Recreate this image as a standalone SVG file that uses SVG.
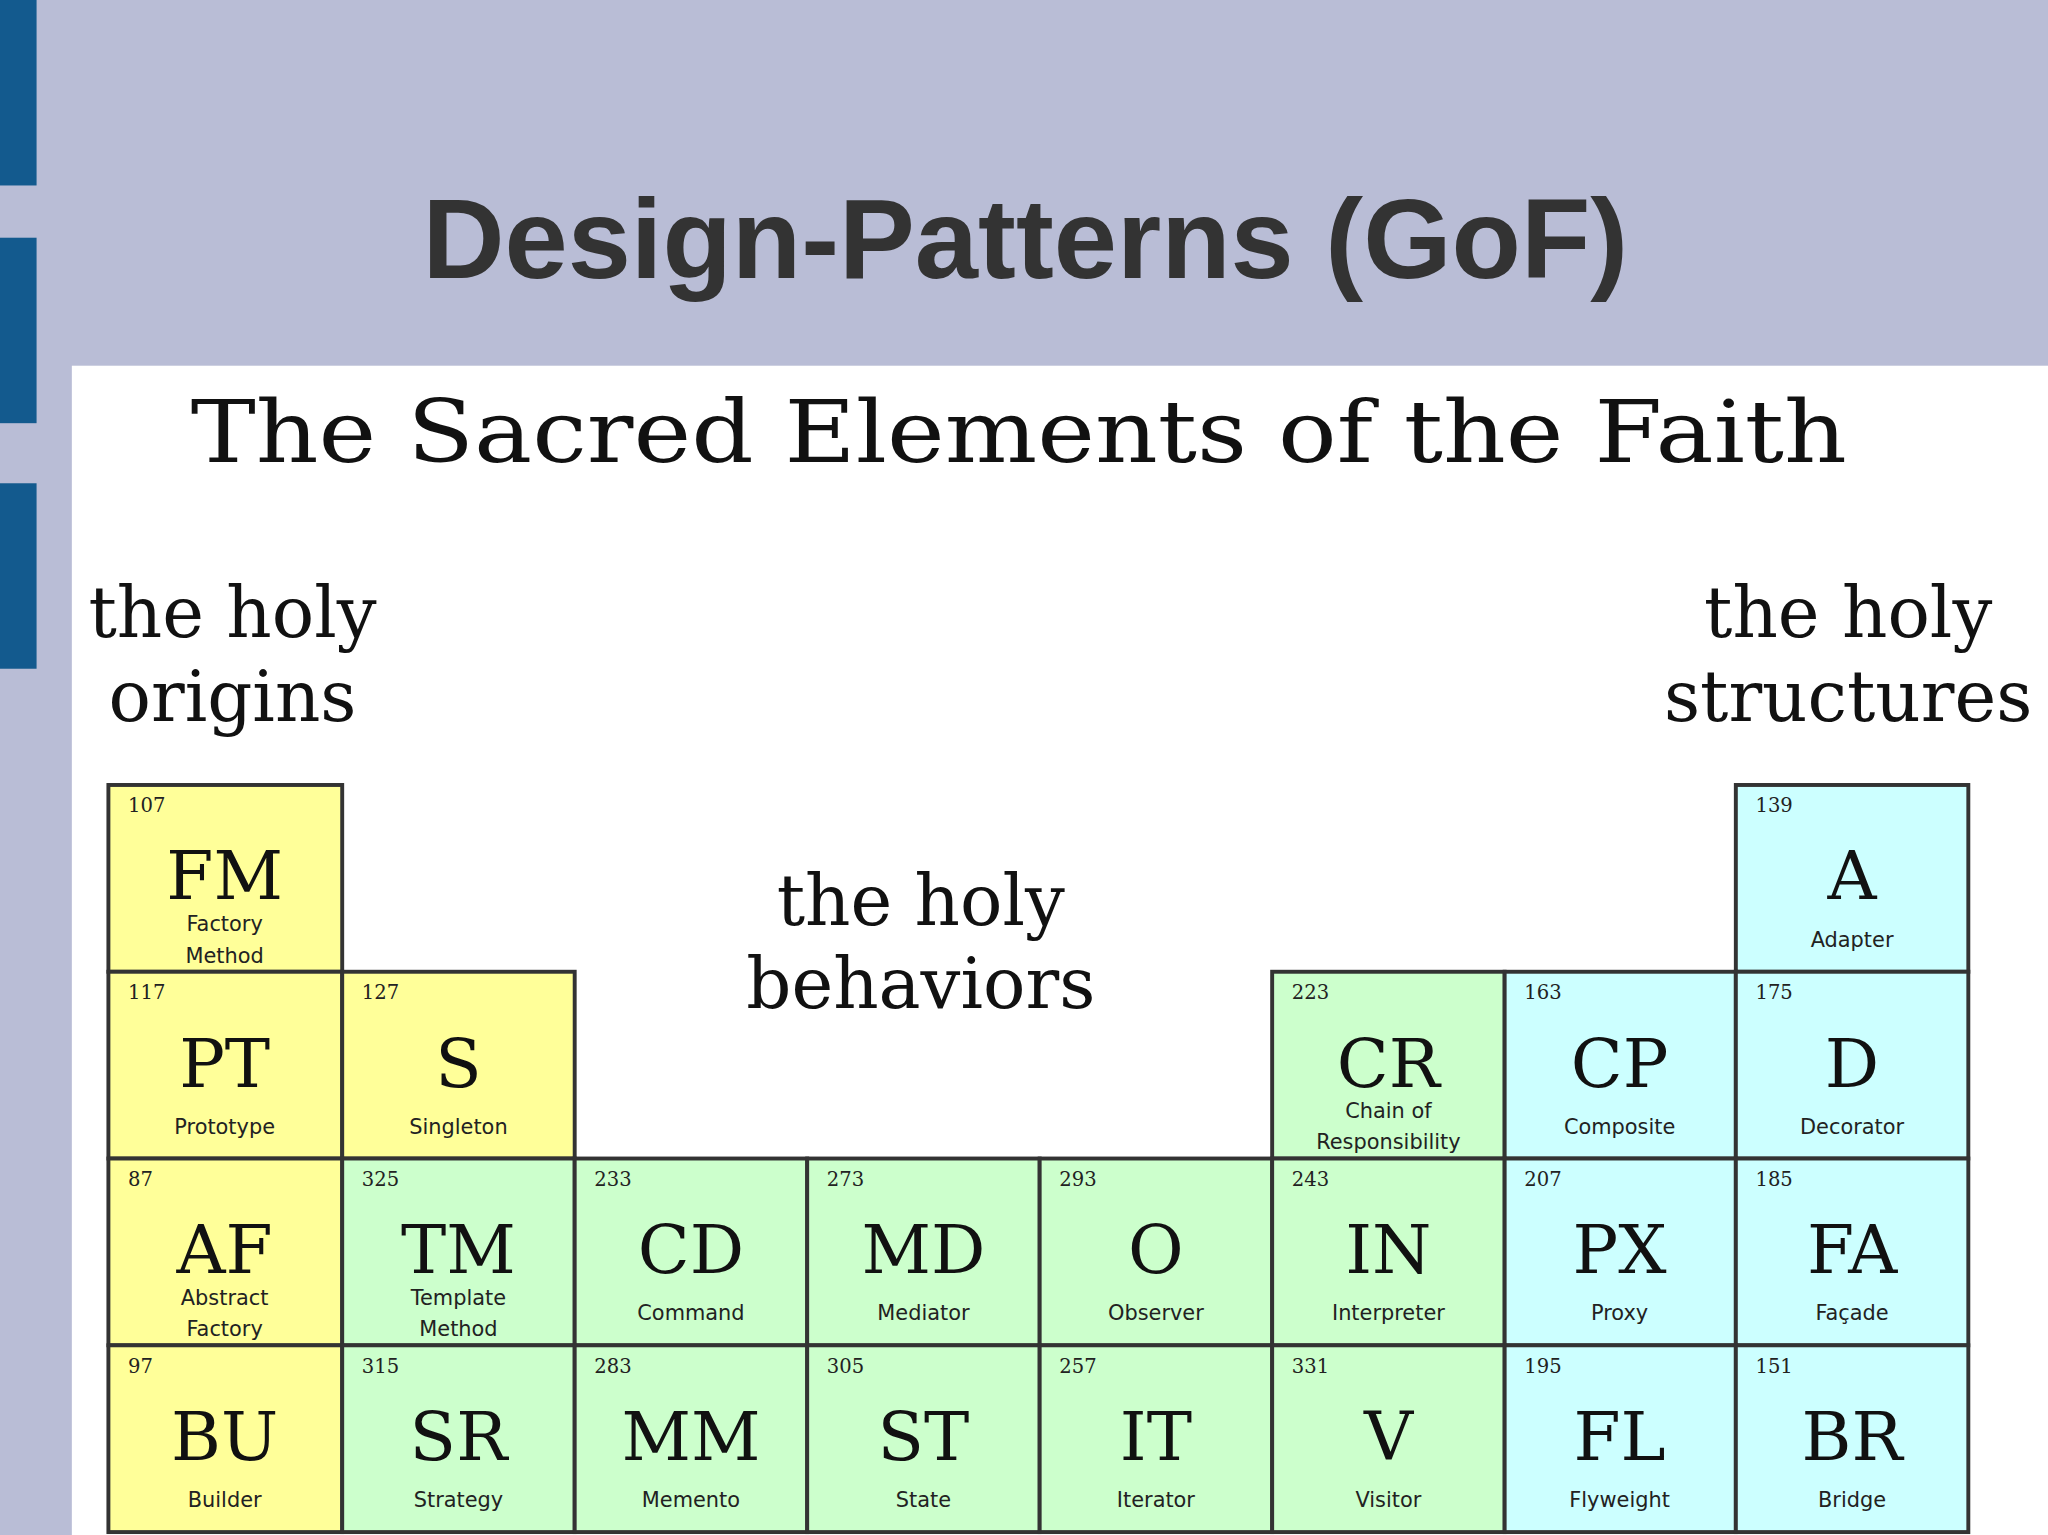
<svg xmlns="http://www.w3.org/2000/svg" width="2048" height="1535" viewBox="0 0 2048 1535">
<style>
.c rect{stroke:#333;stroke-width:3}
.y{fill:#ffff99}.g{fill:#ccffcc}.b{fill:#ccffff}
.n{font-family:"DejaVu Serif",serif;font-size:15px;fill:#222}
.s{font-family:"DejaVu Serif",serif;font-size:52px;fill:#111;text-anchor:middle}
.l{font-family:"DejaVu Sans",sans-serif;font-size:16px;fill:#222;text-anchor:middle}
.h{font-family:"DejaVu Serif",serif;font-size:54px;fill:#111;text-anchor:middle}
</style>
<rect width="2048" height="1535" fill="#b9bdd6"/>
<g transform="scale(1.30612)">
<rect x="0" y="0" width="28" height="142" fill="#135a8e"/>
<rect x="0" y="182" width="28" height="142" fill="#135a8e"/>
<rect x="0" y="370" width="28" height="142" fill="#135a8e"/>
<text x="785" y="213" text-anchor="middle" font-family="Liberation Sans,sans-serif" font-weight="bold" font-size="87" fill="#333">Design-Patterns (GoF)</text>
<rect x="55" y="280" width="1513" height="900" fill="#ffffff"/>
<text x="780" y="354" text-anchor="middle" font-family="DejaVu Serif,serif" font-size="66" fill="#111" textLength="1268" lengthAdjust="spacingAndGlyphs">The Sacred Elements of the Faith</text>
<text class="h" x="178" y="488">the holy</text><text class="h" x="178" y="552">origins</text>
<text class="h" x="1415" y="488">the holy</text><text class="h" x="1415" y="552">structures</text>
<text class="h" x="705" y="708">the holy</text><text class="h" x="705" y="772">behaviors</text>
<g class="c">
<g id="FM"><rect class="y" x="83" y="601" width="179" height="143"/><text class="n" x="98" y="622">107</text><text class="s" x="172" y="688">FM</text><text class="l" x="172" y="713">Factory</text><text class="l" x="172" y="737">Method</text></g>
<g id="A"><rect class="b" x="1329" y="601" width="178" height="143"/><text class="n" x="1344" y="622">139</text><text class="s" x="1418" y="688">A</text><text class="l" x="1418" y="725">Adapter</text></g>
<g id="PT"><rect class="y" x="83" y="744" width="179" height="143"/><text class="n" x="98" y="765">117</text><text class="s" x="172" y="832">PT</text><text class="l" x="172" y="868">Prototype</text></g>
<g id="S"><rect class="y" x="262" y="744" width="178" height="143"/><text class="n" x="277" y="765">127</text><text class="s" x="351" y="832">S</text><text class="l" x="351" y="868">Singleton</text></g>
<g id="CR"><rect class="g" x="974" y="744" width="178" height="143"/><text class="n" x="989" y="765">223</text><text class="s" x="1063" y="832">CR</text><text class="l" x="1063" y="856">Chain of</text><text class="l" x="1063" y="880">Responsibility</text></g>
<g id="CP"><rect class="b" x="1152" y="744" width="177" height="143"/><text class="n" x="1167" y="765">163</text><text class="s" x="1240" y="832">CP</text><text class="l" x="1240" y="868">Composite</text></g>
<g id="D"><rect class="b" x="1329" y="744" width="178" height="143"/><text class="n" x="1344" y="765">175</text><text class="s" x="1418" y="832">D</text><text class="l" x="1418" y="868">Decorator</text></g>
<g id="AF"><rect class="y" x="83" y="887" width="179" height="143"/><text class="n" x="98" y="908">87</text><text class="s" x="172" y="975">AF</text><text class="l" x="172" y="999">Abstract</text><text class="l" x="172" y="1023">Factory</text></g>
<g id="TM"><rect class="g" x="262" y="887" width="178" height="143"/><text class="n" x="277" y="908">325</text><text class="s" x="351" y="975">TM</text><text class="l" x="351" y="999">Template</text><text class="l" x="351" y="1023">Method</text></g>
<g id="CD"><rect class="g" x="440" y="887" width="178" height="143"/><text class="n" x="455" y="908">233</text><text class="s" x="529" y="975">CD</text><text class="l" x="529" y="1011">Command</text></g>
<g id="MD"><rect class="g" x="618" y="887" width="178" height="143"/><text class="n" x="633" y="908">273</text><text class="s" x="707" y="975">MD</text><text class="l" x="707" y="1011">Mediator</text></g>
<g id="O"><rect class="g" x="796" y="887" width="178" height="143"/><text class="n" x="811" y="908">293</text><text class="s" x="885" y="975">O</text><text class="l" x="885" y="1011">Observer</text></g>
<g id="IN"><rect class="g" x="974" y="887" width="178" height="143"/><text class="n" x="989" y="908">243</text><text class="s" x="1063" y="975">IN</text><text class="l" x="1063" y="1011">Interpreter</text></g>
<g id="PX"><rect class="b" x="1152" y="887" width="177" height="143"/><text class="n" x="1167" y="908">207</text><text class="s" x="1240" y="975">PX</text><text class="l" x="1240" y="1011">Proxy</text></g>
<g id="FA"><rect class="b" x="1329" y="887" width="178" height="143"/><text class="n" x="1344" y="908">185</text><text class="s" x="1418" y="975">FA</text><text class="l" x="1418" y="1011">Façade</text></g>
<g id="BU"><rect class="y" x="83" y="1030" width="179" height="143"/><text class="n" x="98" y="1051">97</text><text class="s" x="172" y="1118">BU</text><text class="l" x="172" y="1154">Builder</text></g>
<g id="SR"><rect class="g" x="262" y="1030" width="178" height="143"/><text class="n" x="277" y="1051">315</text><text class="s" x="351" y="1118">SR</text><text class="l" x="351" y="1154">Strategy</text></g>
<g id="MM"><rect class="g" x="440" y="1030" width="178" height="143"/><text class="n" x="455" y="1051">283</text><text class="s" x="529" y="1118">MM</text><text class="l" x="529" y="1154">Memento</text></g>
<g id="ST"><rect class="g" x="618" y="1030" width="178" height="143"/><text class="n" x="633" y="1051">305</text><text class="s" x="707" y="1118">ST</text><text class="l" x="707" y="1154">State</text></g>
<g id="IT"><rect class="g" x="796" y="1030" width="178" height="143"/><text class="n" x="811" y="1051">257</text><text class="s" x="885" y="1118">IT</text><text class="l" x="885" y="1154">Iterator</text></g>
<g id="V"><rect class="g" x="974" y="1030" width="178" height="143"/><text class="n" x="989" y="1051">331</text><text class="s" x="1063" y="1118">V</text><text class="l" x="1063" y="1154">Visitor</text></g>
<g id="FL"><rect class="b" x="1152" y="1030" width="177" height="143"/><text class="n" x="1167" y="1051">195</text><text class="s" x="1240" y="1118">FL</text><text class="l" x="1240" y="1154">Flyweight</text></g>
<g id="BR"><rect class="b" x="1329" y="1030" width="178" height="143"/><text class="n" x="1344" y="1051">151</text><text class="s" x="1418" y="1118">BR</text><text class="l" x="1418" y="1154">Bridge</text></g>
</g>
<g id="connectors"/>
</g>
</svg>
